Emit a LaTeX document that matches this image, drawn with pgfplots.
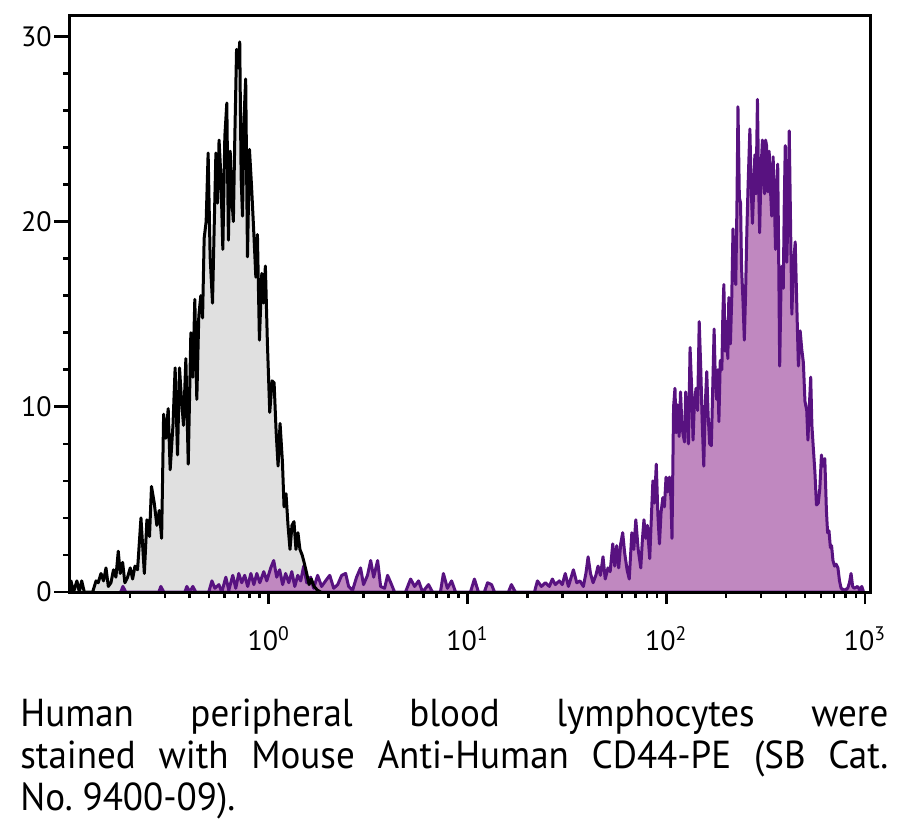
\documentclass[border=0pt]{standalone}
\usepackage{pgfplots}
\usepackage{pgfplotstable}
\pgfplotsset{compat=1.18}
\usepackage{fontspec}
\setmainfont{PT Sans}
\newfontfamily\capfont{PT Sans}[FakeStretch=0.95]
\definecolor{grayfill}{RGB}{224,224,224}
\definecolor{purplefill}{RGB}{192,136,192}
\definecolor{purpleline}{RGB}{88,18,128}

\pgfplotstableread{
u y
-1.000 0
-0.995 0.6
-0.982 0
-0.965 0.6
-0.953 0
-0.941 0.6
-0.928 0
-0.886 0
-0.869 0.6
-0.858 0.5
-0.844 1.0
-0.831 0.6
-0.819 1.3
-0.807 0.3
-0.794 0.5
-0.781 1.2
-0.769 0.8
-0.757 2.2
-0.747 1.0
-0.735 1.6
-0.724 0.5
-0.710 0.8
-0.697 1.3
-0.685 0.7
-0.673 1.4
-0.660 1.2
-0.643 4.0
-0.626 1.0
-0.613 3.9
-0.600 3.0
-0.590 5.7
-0.576 4.8
-0.563 3.6
-0.551 4.4
-0.539 2.9
-0.529 9.6
-0.518 8.3
-0.506 9.9
-0.496 6.6
-0.482 9.0
-0.471 12.1
-0.459 7.4
-0.449 12.1
-0.439 10.4
-0.429 9.0
-0.417 12.6
-0.405 6.9
-0.392 14.0
-0.382 11.6
-0.372 15.8
-0.362 10.4
-0.352 14.9
-0.342 16.0
-0.333 14.8
-0.325 19.1
-0.315 20.0
-0.305 23.7
-0.295 18.1
-0.283 15.6
-0.275 19.5
-0.266 23.7
-0.258 21.0
-0.250 24.4
-0.241 22.5
-0.231 18.5
-0.221 24.6
-0.211 26.4
-0.203 19.0
-0.194 23.8
-0.186 21.3
-0.178 20.0
-0.171 24.4
-0.162 29.3
-0.154 28.3
-0.146 29.7
-0.139 22.4
-0.132 20.3
-0.124 25.7
-0.116 27.7
-0.107 18.1
-0.097 23.9
-0.087 22.0
-0.077 19.8
-0.065 17.0
-0.057 19.3
-0.047 13.6
-0.035 17.2
-0.027 15.6
-0.017 17.6
-0.007 13.5
0.005 9.7
0.017 11.4
0.027 11.3
0.037 8.7
0.047 6.8
0.057 9.1
0.069 7.0
0.077 4.6
0.087 5.3
0.097 3.6
0.107 2.3
0.117 3.6
0.127 3.8
0.137 2.3
0.147 3.2
0.157 2.3
0.168 2.0
0.178 1.6
0.191 1.0
0.203 0.4
0.214 0.7
0.228 0.3
0.245 0.1
0.261 0
}\blackdata

\pgfplotstableread{
u y
-0.750 0
-0.744 0
-0.734 0.3
-0.719 0
-0.553 0
-0.543 0.3
-0.528 0
-0.422 0
-0.412 0.3
-0.397 0
-0.382 0.3
-0.367 0
-0.302 0
-0.286 0.6
-0.271 0.2
-0.251 0.4
-0.236 0
-0.216 0.8
-0.201 0.1
-0.181 0.9
-0.166 0.2
-0.151 1.0
-0.136 0.5
-0.121 0.9
-0.106 0.3
-0.090 1.0
-0.075 0.4
-0.060 1.0
-0.045 0.5
-0.025 1.1
-0.010 0.6
0.010 1.3
0.025 1.7
0.040 0.8
0.055 1.2
0.070 0.4
0.085 1.0
0.101 0.5
0.116 1.1
0.131 0.3
0.146 0.9
0.161 0.6
0.176 1.4
0.191 0.5
0.211 0.8
0.226 0.2
0.246 0.9
0.266 0.3
0.286 0.6
0.307 0.9
0.327 0.2
0.347 0.4
0.367 0.9
0.387 1.0
0.402 0.3
0.422 0.1
0.442 0.8
0.462 1.3
0.477 0.4
0.497 0.9
0.513 1.7
0.528 0.8
0.548 1.7
0.563 0.3
0.583 0.2
0.598 0.9
0.618 0.4
0.633 0
0.688 0
0.714 0.7
0.734 0.3
0.754 0.6
0.774 0
0.804 0.4
0.824 0
0.864 0
0.879 1.0
0.899 0.2
0.920 0.6
0.940 0
1.015 0
1.035 0.7
1.055 0
1.085 0
1.101 0.5
1.121 0.4
1.136 0
1.206 0
1.221 0.4
1.241 0
1.337 0
1.352 0.6
1.372 0.3
1.392 0.5
1.412 0.3
1.427 0.7
1.442 0.4
1.462 0.6
1.477 0.4
1.492 1.0
1.508 0.3
1.533 1.2
1.550 0.5
1.566 0.6
1.583 0.3
1.596 1.0
1.607 1.9
1.619 1.0
1.632 0.5
1.646 0.9
1.657 1.4
1.669 0.9
1.682 1.9
1.693 0.7
1.707 1.3
1.718 1.1
1.731 2.6
1.741 1.4
1.751 2.5
1.761 1.3
1.771 2.6
1.781 3.2
1.791 2.1
1.803 1.2
1.814 0.7
1.827 3.2
1.837 2.3
1.847 3.9
1.859 2.3
1.872 1.3
1.880 2.8
1.888 3.9
1.897 2.9
1.905 3.6
1.917 1.8
1.927 4.5
1.933 6.0
1.941 4.8
1.950 6.9
1.958 4.2
1.966 2.6
1.974 4.3
1.983 5.1
1.991 4.6
1.999 6.2
2.007 5.4
2.016 6.2
2.024 5.0
2.029 2.9
2.037 10.0
2.044 11.0
2.050 8.6
2.057 10.1
2.065 8.4
2.072 10.8
2.079 9.0
2.085 8.5
2.092 8.1
2.098 10.8
2.105 9.8
2.112 8.0
2.120 13.2
2.128 11.0
2.135 8.2
2.141 10.0
2.150 11.0
2.158 9.8
2.166 14.6
2.174 12.0
2.181 9.2
2.189 6.8
2.196 10.0
2.204 11.9
2.211 9.5
2.219 8.0
2.227 7.9
2.234 11.0
2.241 14.2
2.247 11.5
2.254 10.4
2.260 12.0
2.265 9.2
2.272 12.5
2.280 12.0
2.285 15.0
2.290 16.6
2.297 13.0
2.303 14.6
2.310 12.6
2.315 15.9
2.323 13.4
2.330 16.0
2.336 19.6
2.343 17.3
2.350 16.6
2.356 21.0
2.361 26.2
2.368 21.3
2.374 21.0
2.379 17.5
2.386 15.8
2.393 13.6
2.399 16.0
2.406 19.6
2.412 22.0
2.421 25.0
2.427 22.0
2.434 19.9
2.441 22.0
2.446 23.6
2.452 21.5
2.459 26.6
2.465 22.0
2.470 19.4
2.477 22.8
2.484 24.4
2.490 22.2
2.495 21.5
2.500 24.4
2.505 24.1
2.512 21.6
2.518 23.8
2.525 21.6
2.531 20.3
2.538 23.5
2.545 20.8
2.550 18.5
2.556 21.8
2.561 23.1
2.566 18.0
2.571 12.2
2.578 16.8
2.583 17.6
2.589 16.4
2.594 21.0
2.599 24.1
2.604 21.0
2.607 17.8
2.614 21.4
2.619 24.9
2.626 19.6
2.632 15.0
2.641 17.8
2.649 18.9
2.657 15.5
2.665 12.2
2.674 14.1
2.682 13.1
2.690 12.4
2.698 10.3
2.707 9.8
2.713 8.2
2.720 10.0
2.727 11.6
2.733 9.0
2.740 7.8
2.748 6.5
2.756 4.7
2.765 4.8
2.773 5.6
2.781 7.4
2.789 6.8
2.798 7.2
2.806 4.4
2.812 3.2
2.819 3.3
2.826 2.4
2.832 2.5
2.839 1.7
2.847 1.4
2.855 1.5
2.864 1.3
2.872 0.6
2.880 0.2
2.897 0.1
2.913 0.2
2.922 0.5
2.930 1.0
2.938 0.3
2.946 0.2
2.963 0.3
2.974 0.1
2.984 0.3
2.993 0
}\purpledata

\begin{document}
\begin{tikzpicture}
\useasboundingbox (-35pt,-118.5pt) rectangle (414pt,296pt);
\begin{axis}[
  at={(0,0)}, anchor=south west,
  scale only axis,
  width=400pt, height=288pt,
  xmode=log,
  xmin=0.1, xmax=1060,
  ymin=0, ymax=31.1,
  axis on top,
  axis line style={line width=1.5pt},
  every tick/.style={black, line width=1.3pt},
  tick align=outside,
  tick pos=left,
  major tick length=8pt,
  minor tick length=3.5pt,
  xtick style={/pgfplots/major tick length=6pt, /pgfplots/minor tick length=3pt},
  xtick={1,10,100,1000},
  xticklabels={10\textsuperscript{0},10\textsuperscript{1},10\textsuperscript{2},10\textsuperscript{3}},
  minor xtick={0.2,0.3,0.4,0.5,0.6,0.7,0.8,0.9,2,3,4,5,6,7,8,9,20,30,40,50,60,70,80,90,200,300,400,500,600,700,800,900},
  ytick={0,10,20,30},
  minor ytick={2,4,6,8,12,14,16,18,22,24,26,28},
  /pgf/number format/assume math mode=true,
  ticklabel style={font=\fontsize{14}{16}\selectfont},
  yticklabel style={inner sep=1pt},
  xticklabel style={inner sep=1pt, yshift=-8pt},
  clip=true,
]
\addplot[fill=grayfill, draw=none] table[x expr={10^(\thisrow{u})}, y=y] {\blackdata} \closedcycle;
\addplot[fill=purplefill, draw=purpleline, line width=1.5pt, line join=round] table[x expr={10^(\thisrow{u})}, y=y] {\purpledata} \closedcycle;
\addplot[draw=black, line width=1.5pt, line join=round] table[x expr={10^(\thisrow{u})}, y=y] {\blackdata};
\end{axis}
\node[anchor=north west, inner sep=0pt, text width=434pt, align=justify,
  font=\capfont\fontsize{19.5}{21}\selectfont] at (-25pt,-53pt)
  {Human peripheral blood lymphocytes were\linebreak stained with Mouse Anti-Human CD44-PE (SB Cat.\linebreak No.~9400-09).};
\end{tikzpicture}
\end{document}
